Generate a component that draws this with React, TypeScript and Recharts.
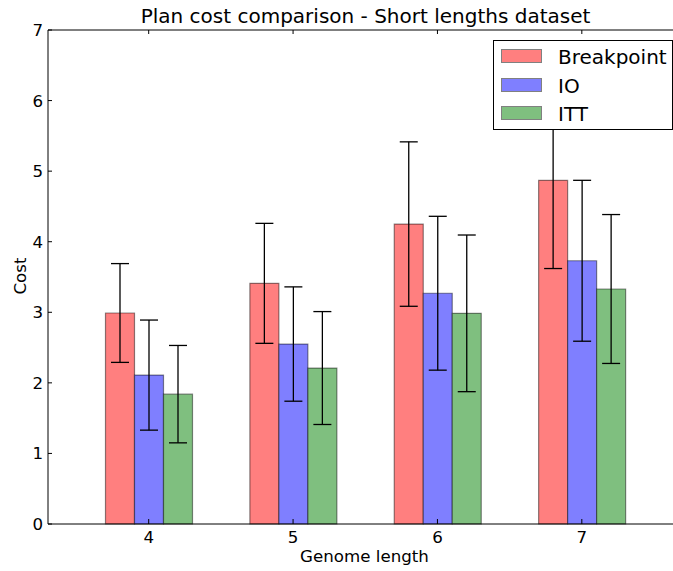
import React from 'react';
import { BarChart, Bar, XAxis, YAxis, ErrorBar, Legend } from 'recharts';

const categories = ['4', '5', '6', '7'];
const breakpointCost = [2.99, 3.41, 4.25, 4.87];
const breakpointErr = [0.7, 0.85, 1.165, 1.25];
const ioCost = [2.11, 2.55, 3.27, 3.73];
const ioErr = [0.78, 0.81, 1.09, 1.14];
const ittCost = [1.84, 2.21, 2.985, 3.33];
const ittErr = [0.69, 0.8, 1.11, 1.055];
const yTicks = [0, 1, 2, 3, 4, 5, 6, 7];
const seriesNames = ['Breakpoint', 'IO', 'ITT'];
const seriesColors = ['#ff7f7f', '#7f7fff', '#7fbf7f'];

const data = categories.map((name, i) => ({
  name,
  bp: breakpointCost[i],
  bpErr: breakpointErr[i],
  io: ioCost[i],
  ioErr: ioErr[i],
  itt: ittCost[i],
  ittErr: ittErr[i],
}));

const FONT = '"DejaVu Sans", sans-serif';

const BottomTick = (props: any) => {
  const { x, y, payload } = props;
  return (
    <g>
      <line x1={x} y1={y} x2={x} y2={y - 5} stroke="#000" strokeWidth={1} />
      <text x={x} y={y + 19} textAnchor="middle" fontFamily={FONT} fontSize={16.67} fill="#000">
        {payload.value}
      </text>
    </g>
  );
};

const TopTick = (props: any) => {
  const { x, y } = props;
  return <line x1={x} y1={y} x2={x} y2={y + 4} stroke="#000" strokeWidth={1} />;
};

const LeftTick = (props: any) => {
  const { x, y, payload } = props;
  return (
    <g>
      <line x1={x} y1={y} x2={x + 4} y2={y} stroke="#000" strokeWidth={1} />
      <text x={x - 5} y={y + 6} textAnchor="end" fontFamily={FONT} fontSize={16.67} fill="#000">
        {payload.value}
      </text>
    </g>
  );
};

const LegendBox = () => (
  <div
    style={{
      position: 'relative',
      width: 178,
      height: 88,
      border: '1px solid #000',
      background: '#fff',
      fontFamily: FONT,
      fontSize: 20,
      color: '#000',
    }}
  >
    {seriesNames.map((n, i) => (
      <React.Fragment key={n}>
        <div
          style={{
            position: 'absolute',
            left: 7,
            top: 8 + i * 28.6,
            width: 39,
            height: 12,
            background: seriesColors[i],
            border: '1px solid #808080',
          }}
        />
        <div
          style={{
            position: 'absolute',
            left: 64,
            top: 6.4 + i * 28.4,
            lineHeight: '20px',
            whiteSpace: 'nowrap',
          }}
        >
          {n}
        </div>
      </React.Fragment>
    ))}
  </div>
);

const CostLabel = () => (
  <text
    x={26}
    y={276}
    transform="rotate(-90 26 276)"
    textAnchor="middle"
    fontFamily={FONT}
    fontSize={16.67}
    fill="#000"
  >
    Cost
  </text>
);

export default function App() {
  return (
    <div
      style={{
        position: 'absolute',
        left: 0,
        top: 0,
        width: 673,
        height: 571,
        overflow: 'hidden',
        background: '#fff',
      }}
    >
      <div
        style={{
          position: 'absolute',
          left: 0,
          top: 6,
          width: 731,
          textAlign: 'center',
          fontFamily: FONT,
          fontSize: 20,
          lineHeight: '20px',
          color: '#000',
          whiteSpace: 'nowrap',
          zIndex: 2,
        }}
      >
        Plan cost comparison - Short lengths dataset
      </div>
      <BarChart
        width={690}
        height={571}
        data={data}
        margin={{ top: 0, right: 9, bottom: 0, left: 0 }}
        barGap={0}
        barSize={29}
      >
        <XAxis
          dataKey="name"
          height={47}
          padding={{ left: 28.5, right: 27 }}
          axisLine={{ stroke: '#000', strokeWidth: 1 }}
          tickLine={false}
          tickSize={0}
          tickMargin={0}
          tick={<BottomTick />}
          interval={0}
          label={{
            value: 'Genome length',
            position: 'insideBottom',
            offset: 9,
            fontFamily: FONT,
            fontSize: 16.67,
            fill: '#000',
          }}
        />
        <XAxis
          xAxisId="top"
          orientation="top"
          dataKey="name"
          height={30}
          padding={{ left: 28.5, right: 27 }}
          axisLine={{ stroke: '#000', strokeWidth: 1 }}
          tickLine={false}
          tickSize={0}
          tickMargin={0}
          tick={<TopTick />}
          interval={0}
        />
        <YAxis
          type="number"
          domain={[0, 7]}
          ticks={yTicks}
          width={48}
          axisLine={{ stroke: '#000', strokeWidth: 1 }}
          tickLine={false}
          tickSize={0}
          tickMargin={0}
          tick={<LeftTick />}
          interval={0}
          label={{ content: () => <CostLabel /> }}
        />
        <Legend
          layout="horizontal"
          verticalAlign="middle"
          align="center"
          content={() => <LegendBox />}
          wrapperStyle={{ left: 493, top: 40, width: 180, height: 90, margin: 0 }}
        />
        <Bar
          dataKey="bp"
          name="Breakpoint"
          fill={seriesColors[0]}
          stroke="rgba(0,0,0,0.45)"
          strokeWidth={1.2}
          isAnimationActive={false}
        >
          <ErrorBar dataKey="bpErr" width={9} stroke="#000" strokeWidth={1.3} />
        </Bar>
        <Bar
          dataKey="io"
          name="IO"
          fill={seriesColors[1]}
          stroke="rgba(0,0,0,0.45)"
          strokeWidth={1.2}
          isAnimationActive={false}
        >
          <ErrorBar dataKey="ioErr" width={9} stroke="#000" strokeWidth={1.3} />
        </Bar>
        <Bar
          dataKey="itt"
          name="ITT"
          fill={seriesColors[2]}
          stroke="rgba(0,0,0,0.45)"
          strokeWidth={1.2}
          isAnimationActive={false}
        >
          <ErrorBar dataKey="ittErr" width={9} stroke="#000" strokeWidth={1.3} />
        </Bar>
      </BarChart>
    </div>
  );
}
